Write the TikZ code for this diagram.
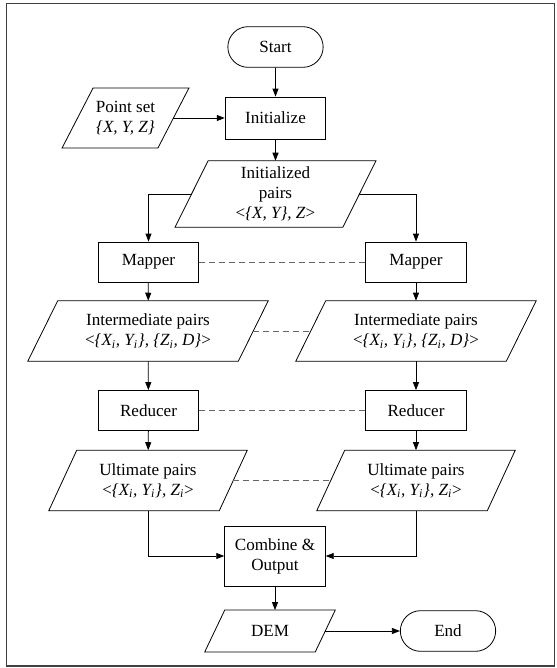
\documentclass[tikz,border=0pt]{standalone}
\usepackage{fontspec}
\setmainfont{Liberation Serif}
\usetikzlibrary{shapes.misc, arrows.meta, positioning}

% outline of a data node: top edge pushed right, bottom edge pushed left
\newcommand{\slanted}[2]{%
  \draw[line width=0.6pt] ([xshift=#2]#1.north west) -- ([xshift=#2]#1.north east)
    -- ([xshift=-#2]#1.south east) -- ([xshift=-#2]#1.south west) -- cycle;}

\begin{document}
\begin{tikzpicture}[
  x=0.75pt, y=-0.75pt,
  every node/.style={font=\rmfamily\fontsize{12.8}{15}\selectfont},
  process/.style={rectangle, draw, line width=0.6pt, minimum width=75.5pt, minimum height=30pt, align=center, inner sep=2pt},
  terminal/.style={rounded rectangle, draw, line width=0.6pt, minimum width=75.5pt, minimum height=30.5pt, inner sep=2pt},
  data/.style={rectangle, align=center, inner sep=1pt},
  flow/.style={line width=0.6pt, -{Triangle[length=6pt, width=4.5pt]}},
  link/.style={line width=0.6pt, black!60, dash pattern=on 4.5pt off 3pt},
]
  \useasboundingbox (0,0) rectangle (557,668);
  % Frame
  \draw[line width=1.2pt, black!75] (6.5,3.5) rectangle (554.5,666);

  % Start and initialisation
  \node[terminal] (start) at (275.5,47) {Start};
  \node[process, minimum height=31.5pt] (init) at (275.5,118) {Initialize};
  \node[data, minimum width=71.5pt, minimum height=44.5pt] (points) at (125.5,118) {Point set\\\textit{\{X, Y, Z\}}};
  \node[data, minimum width=125.5pt, minimum height=49.5pt] (initpairs) at (275.5,194) {Initialized\\pairs\\<\textit{\{X, Y\}, Z}>};
  \slanted{points}{11.6pt}
  \slanted{initpairs}{12.4pt}

  % Left branch
  \node[process] (mapL) at (148.5,262) {Mapper};
  \node[data, minimum width=157.5pt, minimum height=45pt] (midL) at (148,331) {Intermediate pairs\\<\textit{\{X\textsubscript{i}, Y\textsubscript{i}\}, \{Z\textsubscript{i}, D\}}>};
  \node[process] (redL) at (148.5,410.5) {Reducer};
  \node[data, minimum width=127.5pt, minimum height=45pt] (ultL) at (148,480.5) {Ultimate pairs\\<\textit{\{X\textsubscript{i}, Y\textsubscript{i}\}, Z\textsubscript{i}}>};
  \slanted{midL}{11.25pt}
  \slanted{ultL}{10.5pt}

  % Right branch
  \node[process] (mapR) at (416,262) {Mapper};
  \node[data, minimum width=157.5pt, minimum height=45pt] (midR) at (416,331) {Intermediate pairs\\<\textit{\{X\textsubscript{i}, Y\textsubscript{i}\}, \{Z\textsubscript{i}, D\}}>};
  \node[process] (redR) at (416,410.5) {Reducer};
  \node[data, minimum width=127.5pt, minimum height=45pt] (ultR) at (416,480.5) {Ultimate pairs\\<\textit{\{X\textsubscript{i}, Y\textsubscript{i}\}, Z\textsubscript{i}}>};
  \slanted{midR}{11.25pt}
  \slanted{ultR}{10.5pt}

  % Output
  \node[process, minimum height=45pt] (combine) at (275,556) {Combine \&\\Output};
  \node[data, minimum width=82.5pt, minimum height=31pt] (dem) at (270,631) {DEM};
  \node[terminal] (end) at (448,631) {End};
  \slanted{dem}{7.5pt}

  % Flow
  \draw[flow] (start) -- (init);
  \draw[flow] (points.east) -- (init.west);
  \draw[flow] (init) -- (initpairs);
  \draw[flow] (initpairs.west) -| (mapL.north);
  \draw[flow] (initpairs.east) -| (mapR.north);
  \draw[flow] (mapL) -- (midL);
  \draw[flow] (midL) -- (redL);
  \draw[flow] (redL) -- (ultL);
  \draw[flow] (mapR) -- (midR);
  \draw[flow] (midR) -- (redR);
  \draw[flow] (redR) -- (ultR);
  \draw[flow] (ultL.south) |- (combine.west);
  \draw[flow] (ultR.south) |- (combine.east);
  \draw[flow] (combine.south) -- (combine.south |- dem.north);
  \draw[flow] (dem.east) -- (end.west);

  % Parallel tasks
  \draw[link] (mapL.east) -- (mapR.west);
  \draw[link] (midL.east) -- (midR.west);
  \draw[link] (redL.east) -- (redR.west);
  \draw[link] (ultL.east) -- (ultR.west);
\end{tikzpicture}
\end{document}
